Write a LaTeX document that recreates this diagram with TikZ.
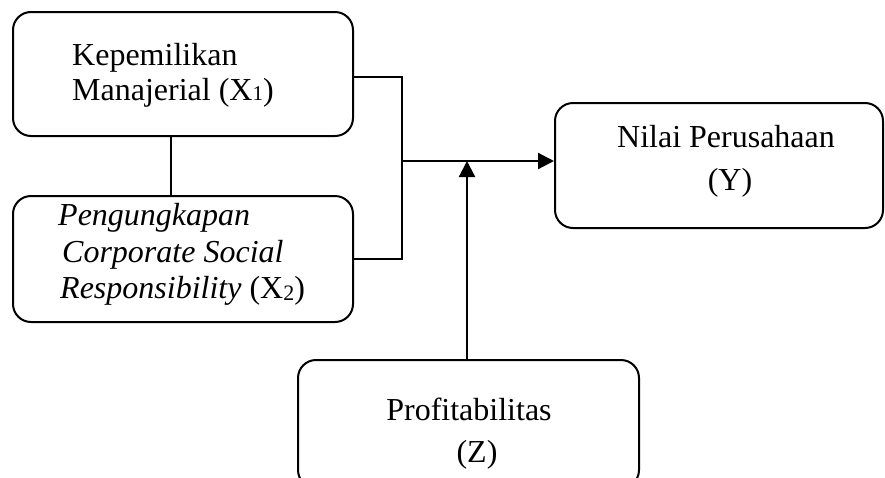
\documentclass[tikz,border=0pt]{standalone}
\usepackage{fontspec}
\setmainfont{Liberation Serif}
\usetikzlibrary{arrows.meta}
\begin{document}
\begin{tikzpicture}[x=1pt,y=-1pt,
  box/.style={draw,line width=2pt,rounded corners=18pt,inner sep=0pt},
  lbl/.style={inner sep=0pt,font=\fontsize{32}{36}\selectfont},
  conn/.style={line width=2.2pt},
  arr/.style={line width=2.2pt,-{Triangle[length=16pt,width=16pt]}}]
\useasboundingbox (0,0) rectangle (885,477);
\node[box,minimum width=340pt,minimum height=124pt] (b1) at (183,74) {};
\node[box,minimum width=340pt,minimum height=126pt] (b2) at (183,259) {};
\node[box,minimum width=328pt,minimum height=125pt] (by) at (719,165.5) {};
\node[box,minimum width=341pt,minimum height=128pt] (bz) at (468.5,424) {};
\coordinate (j) at (402,161);
% texts
\node[lbl,anchor=base west] (t1a) at (72,65) {Kepemilikan};
\node[lbl,anchor=base west] (t1b) at (72,100) {Manajerial (X{\fontsize{21}{21}\selectfont 1})};
\node[lbl,anchor=base west] (t2a) at (58,225) {\itshape Pengungkapan};
\node[lbl,anchor=base west] (t2b) at (62,262) {\itshape Corporate Social};
\node[lbl,anchor=base west] (t2c) at (60,298) {\textit{Responsibility} (X\raisebox{-2pt}{\fontsize{22}{22}\selectfont 2})};
\node[lbl,anchor=base] (tya) at (726,147) {Nilai Perusahaan};
\node[lbl,anchor=base] (tyb) at (730,190) {(Y)};
\node[lbl,anchor=base] (tza) at (469,420) {Profitabilitas};
\node[lbl,anchor=base] (tzb) at (477,462) {(Z)};
% connectors
\draw[conn] ([xshift=-12pt]b1.south) -- ([xshift=-12pt]b2.north);
\draw[conn] ([yshift=-3pt]b1.east) -| (j);
\draw[conn] (b2.east) -| (j);
\draw[arr] (j) -- (j -| by.west);
\draw[arr] ([xshift=-1.5pt]bz.north) -- ([xshift=-1.5pt]bz.north |- j);
\end{tikzpicture}
\end{document}
